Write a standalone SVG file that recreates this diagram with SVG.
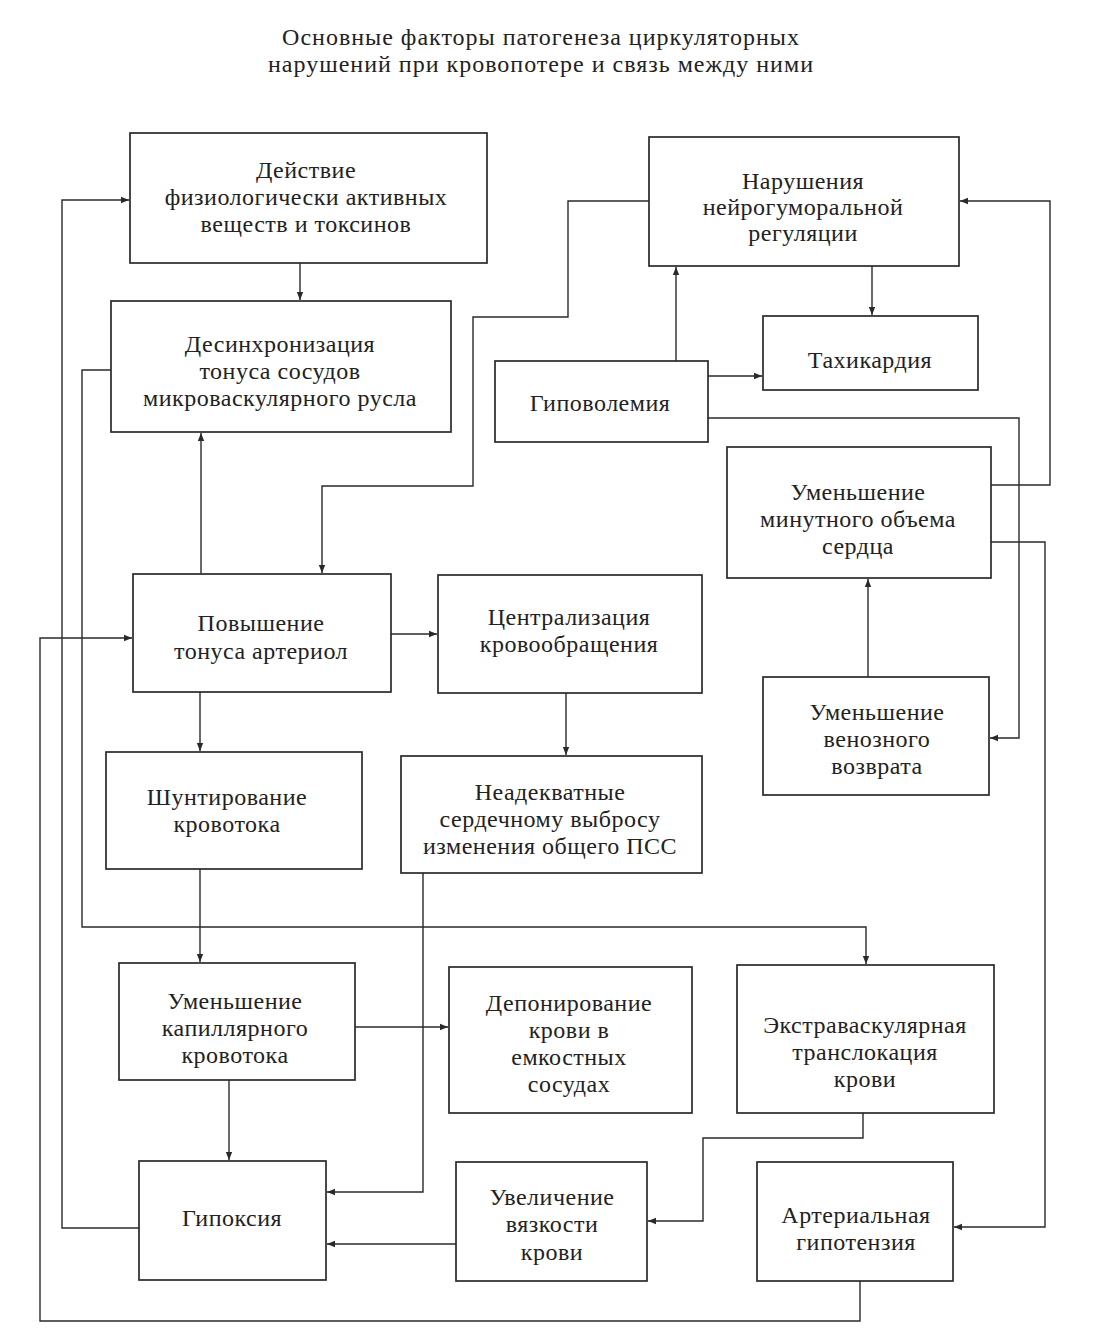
<svg xmlns="http://www.w3.org/2000/svg" width="1102" height="1342" viewBox="0 0 1102 1342">
<defs>
<marker id="ah" viewBox="0 0 10 10" refX="10" refY="5" markerWidth="8" markerHeight="8" markerUnits="userSpaceOnUse" orient="auto">
<path d="M0,1 L10,5 L0,9 Z" fill="#2a2a2a"/>
</marker>
</defs>
<style>
.box{fill:none;stroke:#2a2a2a;stroke-width:1.7}
.t{font-family:"Liberation Serif","Times New Roman",serif;font-size:24px;letter-spacing:0.5px;fill:#222;text-anchor:middle}
.title{font-family:"Liberation Serif","Times New Roman",serif;font-size:24px;letter-spacing:1px;fill:#222;text-anchor:middle}
.c{fill:none;stroke:#2a2a2a;stroke-width:1.4}
.a{marker-end:url(#ah)}
</style>
<rect width="1102" height="1342" fill="#ffffff"/>
<g id="title">
<text class="title" x="541" y="45">Основные факторы патогенеза циркуляторных</text>
<text class="title" x="541" y="72">нарушений при кровопотере и связь между ними</text>
</g>
<g id="connectors">
<path class="c a" d="M300,263 V300"/>
<path class="c a" d="M201,574 V433"/>
<path class="c a" d="M872,266 V315"/>
<path class="c a" d="M676,361 V267"/>
<path class="c a" d="M708,376 H762"/>
<path class="c a" d="M649,201 H568 V317 H473 V486 H322 V573"/>
<path class="c a" d="M708,418 H1019 V738 H990"/>
<path class="c a" d="M991,485 H1050 V201 H960"/>
<path class="c a" d="M991,542 H1045 V1227 H954"/>
<path class="c a" d="M868,677 V579"/>
<path class="c a" d="M391,634 H437"/>
<path class="c a" d="M200,692 V751"/>
<path class="c a" d="M566,693 V755"/>
<path class="c a" d="M200,869 V962"/>
<path class="c a" d="M111,370 H82 V927 H866 V964"/>
<path class="c a" d="M423,873 V1192 H327"/>
<path class="c a" d="M355,1027 H448"/>
<path class="c a" d="M229,1080 V1160"/>
<path class="c a" d="M139,1228 H62 V200 H129"/>
<path class="c a" d="M456,1244 H327"/>
<path class="c a" d="M863,1113 V1138 H703 V1221 H648"/>
<path class="c a" d="M860,1281 V1321 H40 V638 H132"/>
</g>
<g id="n_deystvie">
<rect class="box" x="130" y="133" width="357" height="130"/>
<text class="t" x="306" y="178">Действие</text>
<text class="t" x="306" y="205">физиологически активных</text>
<text class="t" x="306" y="232">веществ и токсинов</text>
</g>
<g id="n_desinhr">
<rect class="box" x="111" y="301" width="340" height="131"/>
<text class="t" x="280" y="352">Десинхронизация</text>
<text class="t" x="280" y="379">тонуса сосудов</text>
<text class="t" x="280" y="406">микроваскулярного русла</text>
</g>
<g id="n_narush">
<rect class="box" x="649" y="137" width="310" height="129"/>
<text class="t" x="803" y="189">Нарушения</text>
<text class="t" x="803" y="215">нейрогуморальной</text>
<text class="t" x="803" y="241">регуляции</text>
</g>
<g id="n_tahi">
<rect class="box" x="763" y="316" width="215" height="74"/>
<text class="t" x="870" y="368">Тахикардия</text>
</g>
<g id="n_gipovol">
<rect class="box" x="495" y="361" width="213" height="81"/>
<text class="t" x="600" y="411">Гиповолемия</text>
</g>
<g id="n_mos">
<rect class="box" x="727" y="447" width="264" height="131"/>
<text class="t" x="858" y="500">Уменьшение</text>
<text class="t" x="858" y="527">минутного объема</text>
<text class="t" x="858" y="554">сердца</text>
</g>
<g id="n_povysh">
<rect class="box" x="133" y="574" width="258" height="118"/>
<text class="t" x="261" y="631">Повышение</text>
<text class="t" x="261" y="659">тонуса артериол</text>
</g>
<g id="n_central">
<rect class="box" x="438" y="575" width="264" height="118"/>
<text class="t" x="569" y="625">Централизация</text>
<text class="t" x="569" y="652">кровообращения</text>
</g>
<g id="n_venoz">
<rect class="box" x="763" y="677" width="226" height="118"/>
<text class="t" x="877" y="720">Уменьшение</text>
<text class="t" x="877" y="747">венозного</text>
<text class="t" x="877" y="774">возврата</text>
</g>
<g id="n_shunt">
<rect class="box" x="106" y="752" width="256" height="117"/>
<text class="t" x="227" y="805">Шунтирование</text>
<text class="t" x="227" y="832">кровотока</text>
</g>
<g id="n_neadekv">
<rect class="box" x="401" y="756" width="301" height="117"/>
<text class="t" x="550" y="800">Неадекватные</text>
<text class="t" x="550" y="827">сердечному выбросу</text>
<text class="t" x="550" y="854">изменения общего ПСС</text>
</g>
<g id="n_kapill">
<rect class="box" x="119" y="963" width="236" height="117"/>
<text class="t" x="235" y="1009">Уменьшение</text>
<text class="t" x="235" y="1036">капиллярного</text>
<text class="t" x="235" y="1063">кровотока</text>
</g>
<g id="n_depon">
<rect class="box" x="449" y="967" width="243" height="146"/>
<text class="t" x="569" y="1011">Депонирование</text>
<text class="t" x="569" y="1038">крови в</text>
<text class="t" x="569" y="1065">емкостных</text>
<text class="t" x="569" y="1092">сосудах</text>
</g>
<g id="n_extra">
<rect class="box" x="737" y="965" width="257" height="148"/>
<text class="t" x="865" y="1033">Экстраваскулярная</text>
<text class="t" x="865" y="1060">транслокация</text>
<text class="t" x="865" y="1087">крови</text>
</g>
<g id="n_gipoks">
<rect class="box" x="139" y="1161" width="187" height="119"/>
<text class="t" x="232" y="1226">Гипоксия</text>
</g>
<g id="n_vyazk">
<rect class="box" x="456" y="1162" width="191" height="119"/>
<text class="t" x="552" y="1205">Увеличение</text>
<text class="t" x="552" y="1232">вязкости</text>
<text class="t" x="552" y="1260">крови</text>
</g>
<g id="n_arter">
<rect class="box" x="757" y="1162" width="196" height="119"/>
<text class="t" x="856" y="1223">Артериальная</text>
<text class="t" x="856" y="1250">гипотензия</text>
</g>
</svg>
